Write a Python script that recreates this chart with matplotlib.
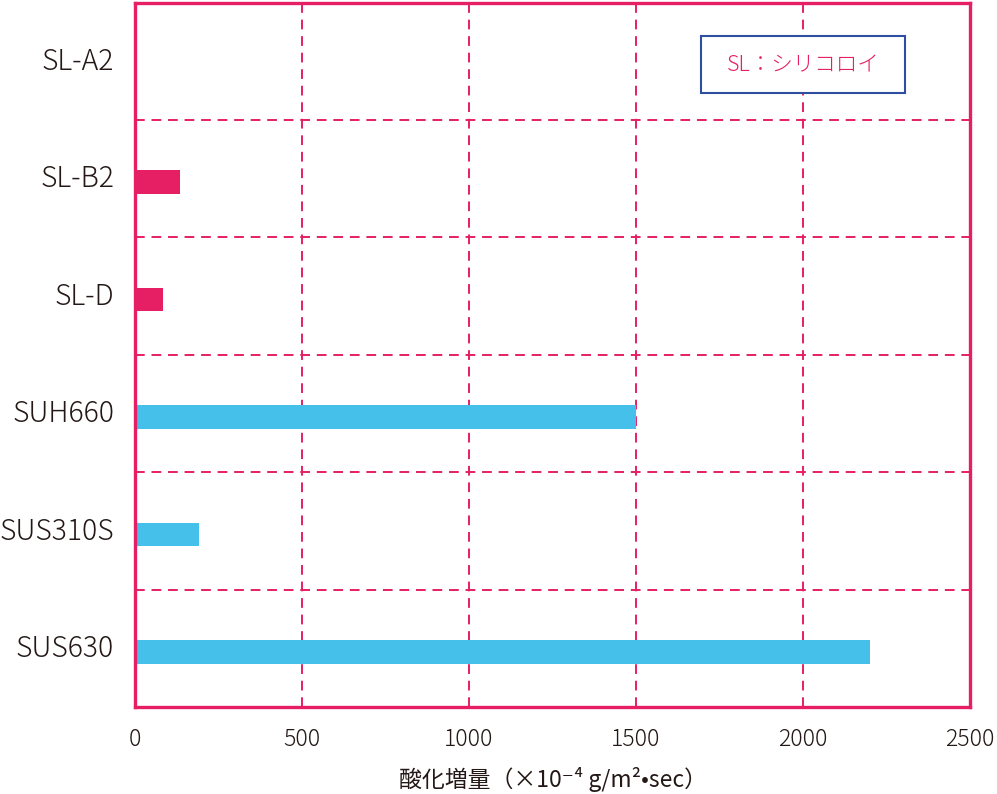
import matplotlib
matplotlib.use("Agg")
import matplotlib.pyplot as plt
from matplotlib.patches import Rectangle

plt.rcParams['font.family'] = ['Noto Sans CJK JP', 'DejaVu Sans']

categories = ["SL-A2", "SL-B2", "SL-D", "SUH660", "SUS310S", "SUS630"]
values = [0, 136, 85, 1500, 191, 2200]
bar_colors = ["#E61E64", "#E61E64", "#E61E64", "#45C0EB", "#45C0EB", "#45C0EB"]
x_ticks = [0, 500, 1000, 1500, 2000, 2500]
x_label = "酸化増量（×10⁻⁴ g/m²•sec）"
legend_text = "SL：シリコロイ"

PINK = "#E61E64"
TEXT = "#231815"

fig = plt.figure(figsize=(9.97, 7.94), dpi=100)
ax = fig.add_axes([135/997, 1 - 707/794, (970-135)/997, (707-2.5)/794])

n = len(categories)
ypos = [n - 1 - i for i in range(n)]
ax.barh([y - 0.03 for y in ypos], values, height=0.2, color=bar_colors, zorder=3)

ax.set_xlim(0, 2500)
ax.set_ylim(-0.5, n - 0.5)
ax.set_xticks(x_ticks)
ax.set_xticklabels([str(t) for t in x_ticks])
ax.set_yticks([y + 0.025 for y in ypos])
ax.set_yticklabels(categories)

for x in x_ticks[1:-1]:
    ax.axvline(x, color=PINK, lw=1.4, ls=(0, (5, 3.5)), zorder=1)
for k in range(n - 1):
    ax.axhline(k + 0.5, color=PINK, lw=1.4, ls=(0, (5, 3.5)), zorder=1)

for s in ax.spines.values():
    s.set_color(PINK)
    s.set_linewidth(2.4)
    s.set_zorder(4)

ax.tick_params(axis='both', length=0)
ax.tick_params(axis='y', labelsize=20.4, pad=15, colors=TEXT)
ax.tick_params(axis='x', labelsize=16.6, pad=14.5, colors=TEXT)
for lab in ax.get_yticklabels() + ax.get_xticklabels():
    lab.set_fontweight('light')
ax.set_xlabel(x_label, fontsize=16.5, color=TEXT, labelpad=10.5,
              family=['Noto Sans CJK JP', 'DejaVu Sans'], fontweight='normal')

# legend box
fig.patches.append(Rectangle((701/997, 1 - 93/794), 204/997, 57/794,
                             transform=fig.transFigure, fill=True,
                             facecolor="white", edgecolor="#2E4F9F", lw=1.5, zorder=5))
fig.text(803/997, 1 - 65/794, legend_text, ha='center', va='center',
         fontsize=15.5, color=PINK, zorder=6, fontweight='light')

fig.savefig("out.png", dpi=100)
